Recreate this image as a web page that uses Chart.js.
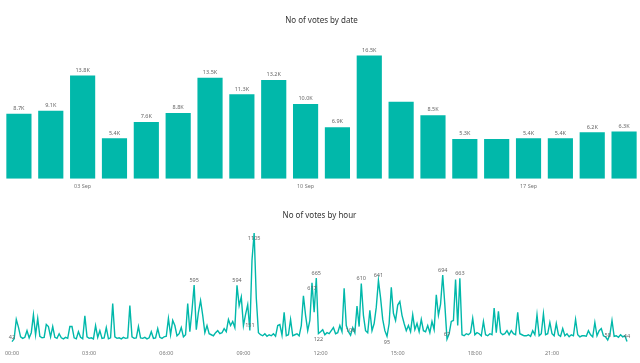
<!DOCTYPE html>
<html><head><meta charset="utf-8">
<script src="https://cdn.jsdelivr.net/npm/chart.js@4.4.1/dist/chart.umd.min.js"></script>
<style>
html,body{margin:0;padding:0;background:#fff;width:640px;height:363px;overflow:hidden}
#c1{position:absolute;left:0;top:0}
#c2{position:absolute;left:0;top:200px}
</style></head><body>
<canvas id="c1" width="640" height="200"></canvas>
<canvas id="c2" width="640" height="163"></canvas>
<script>
// ---- Data: votes by date ----
const dateCategories = ['01 Sep','02 Sep','03 Sep','04 Sep','05 Sep','06 Sep','07 Sep','08 Sep','09 Sep','10 Sep',
  '11 Sep','12 Sep','13 Sep','14 Sep','15 Sep','16 Sep','17 Sep','18 Sep','19 Sep','20 Sep'];
const votesByDate = [8700, 9100, 13800, 5400, 7600, 8800, 13500, 11300, 13200, 10000,
  6900, 16500, 10300, 8500, 5300, 5300, 5400, 5400, 6200, 6300];
const dateValueLabels = ['8.7K','9.1K','13.8K','5.4K','7.6K','8.8K','13.5K','11.3K','13.2K','10.0K',
  '6.9K','16.5K','','8.5K','5.3K','','5.4K','5.4K','6.2K','6.3K'];
const dateTickLabels = ['03 Sep','10 Sep','17 Sep'];

// ---- Data: votes by hour (5-minute buckets, one row per hour) ----
const votesByHour = [
  42, 70, 260, 185, 90, 75, 85, 150, 80, 130, 305, 110,
  270, 95, 80, 85, 210, 190, 90, 190, 85, 75, 120, 80,
  70, 85, 75, 190, 190, 80, 70, 140, 85, 70, 295, 90,
  75, 80, 70, 200, 85, 150, 75, 80, 180, 70, 80, 415,
  90, 75, 80, 70, 85, 75, 80, 395, 90, 75, 80, 190,
  80, 75, 85, 70, 80, 140, 75, 80, 170, 85, 75, 90,
  95, 270, 110, 250, 200, 100, 120, 180, 90, 110, 415, 140,
  350, 595, 160, 330, 445, 300, 130, 200, 120, 110, 100, 130,
  150, 120, 130, 170, 140, 260, 200, 240, 180, 594, 395, 480,
  200, 310, 405, 151, 840, 1105, 470, 130, 110, 100, 120, 95,
  110, 100, 120, 95, 200, 210, 105, 330, 100, 110, 260, 100,
  110, 120, 100, 200, 490, 300, 150, 250, 617, 330, 665, 122,
  140, 160, 110, 130, 120, 150, 180, 120, 130, 200, 140, 565,
  200, 140, 106, 180, 130, 390, 190, 610, 300, 150, 130, 350,
  150, 220, 380, 641, 470, 260, 150, 95, 220, 575, 320, 250,
  400, 435, 300, 220, 150, 200, 140, 305, 160, 220, 140, 260,
  150, 140, 200, 130, 240, 160, 500, 300, 410, 694, 400, 67,
  120, 240, 250, 650, 200, 663, 110, 100, 120, 110, 130, 270,
  110, 130, 120, 100, 240, 110, 100, 120, 110, 370, 130, 340,
  130, 110, 120, 150, 110, 150, 120, 110, 330, 120, 110, 100,
  100, 110, 95, 150, 110, 305, 100, 120, 315, 110, 120, 230,
  120, 100, 220, 110, 95, 170, 100, 120, 90, 110, 100, 260,
  110, 90, 100, 100, 95, 150, 110, 90, 230, 100, 150, 170,
  100, 90, 58, 110, 250, 95, 100, 85, 110, 90, 100, 44
];
const hourTickLabels = ['00:00','03:00','06:00','09:00','12:00','15:00','18:00','21:00'];
const hourLabelIdx = [0, 85, 105, 111, 142, 158, 163, 171, 201, 203, 209, 278, 287];
const hourBelowIdx = [113, 140, 143, 175];

const hourCategories = [];
for (let i = 0; i < votesByHour.length; i++) {
  const m = i * 5;
  hourCategories.push(String(Math.floor(m / 60)).padStart(2, '0') + ':' + String(m % 60).padStart(2, '0'));
}

const TEAL = '#01B8AA';
const FONT = '"Noto Sans", "Open Sans", sans-serif';

const barLabelPlugin = {
  id: 'barLabels',
  afterDatasetsDraw(chart) {
    const ctx = chart.ctx, meta = chart.getDatasetMeta(0);
    ctx.save();
    ctx.font = '5.5px ' + FONT;
    ctx.fillStyle = '#666';
    ctx.textAlign = 'center';
    ctx.textBaseline = 'bottom';
    meta.data.forEach((el, i) => { const t = dateValueLabels[i]; if (t) ctx.fillText(t, el.x, el.y - 2.5); });
    ctx.restore();
  }
};

const lineLabelPlugin = {
  id: 'lineLabels',
  afterDatasetsDraw(chart) {
    const ctx = chart.ctx, meta = chart.getDatasetMeta(0);
    ctx.save();
    ctx.font = '5.5px ' + FONT;
    ctx.fillStyle = '#666';
    ctx.textAlign = 'center';
    hourLabelIdx.forEach(i => {
      const el = meta.data[i];
      ctx.textBaseline = 'bottom';
      ctx.fillText(String(votesByHour[i]), el.x, el.y - 2);
    });
    hourBelowIdx.forEach(i => {
      const el = meta.data[i];
      ctx.textBaseline = 'top';
      ctx.fillText(String(votesByHour[i]), el.x, el.y + 3);
    });
    ctx.restore();
  }
};

new Chart(document.getElementById('c1'), {
  type: 'bar',
  data: { labels: dateCategories, datasets: [{ data: votesByDate, backgroundColor: TEAL, barPercentage: 0.79, categoryPercentage: 1 }] },
  options: {
    responsive: false, animation: false,
    layout: { padding: { left: 3, right: 0, top: 0, bottom: 6.7 } },
    plugins: {
      legend: { display: false }, tooltip: { enabled: false },
      title: { display: true, text: 'No of votes by date', color: '#333', font: { family: FONT, size: 8, weight: 'normal' }, padding: { top: 16, bottom: 12.6 } }
    },
    scales: {
      x: {
        grid: { display: false, drawTicks: false }, border: { display: false },
        ticks: { autoSkip: false, maxRotation: 0, padding: 4, color: '#777', font: { family: FONT, size: 5.5 },
          callback: (v, i) => dateTickLabels.includes(dateCategories[i]) ? dateCategories[i] : '' }
      },
      y: { display: false, min: 0, max: 18800 }
    }
  },
  plugins: [barLabelPlugin]
});

new Chart(document.getElementById('c2'), {
  type: 'line',
  data: { labels: hourCategories, datasets: [{ data: votesByHour, borderColor: TEAL, borderWidth: 1.4, pointRadius: 0, tension: 0, fill: false, clip: false }] },
  options: {
    responsive: false, animation: false,
    layout: { padding: { left: 12, right: 13, top: 0, bottom: 1.4 } },
    plugins: {
      legend: { display: false }, tooltip: { enabled: false },
      title: { display: true, text: 'No of votes by hour', color: '#333', font: { family: FONT, size: 8, weight: 'normal' }, padding: { top: 10.5, bottom: 12.9 } }
    },
    scales: {
      x: {
        offset: false,
        grid: { display: false, drawTicks: false }, border: { display: false },
        ticks: { autoSkip: false, maxRotation: 0, padding: 4.5, color: '#777', font: { family: FONT, size: 5.5 },
          callback: (v, i) => hourTickLabels.includes(hourCategories[i]) ? hourCategories[i] : '' }
      },
      y: { display: false, min: 0, max: 1105 }
    }
  },
  plugins: [lineLabelPlugin]
});
</script>
</body></html>
